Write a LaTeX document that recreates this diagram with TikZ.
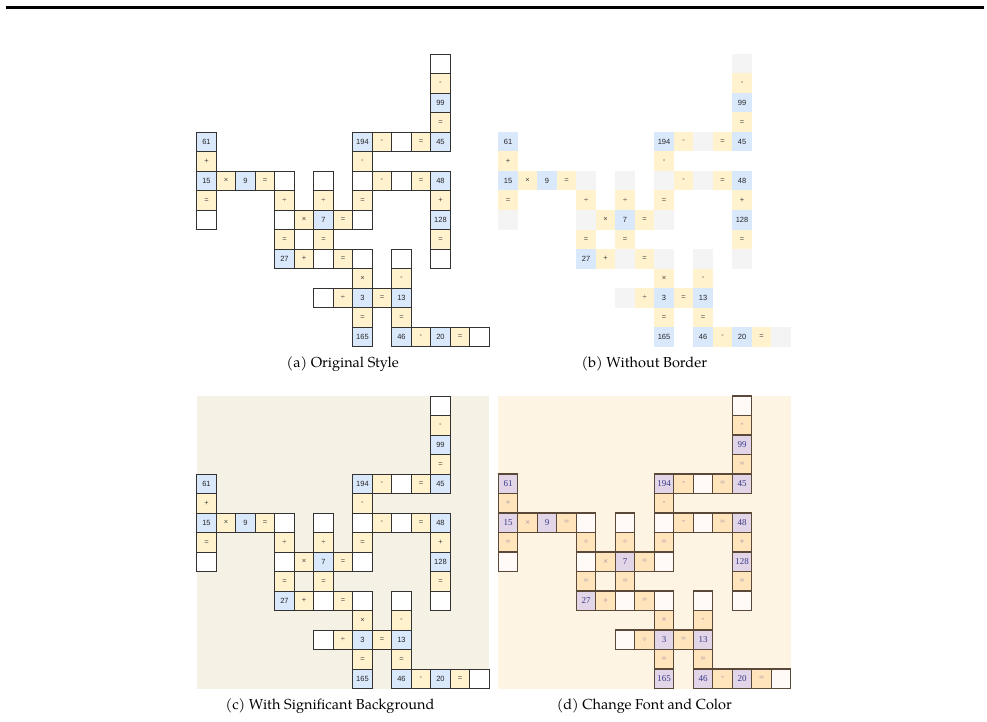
\documentclass[tikz,border=0pt]{standalone}
\usepackage{fontspec}
\newfontfamily\cellsans{Liberation Sans}
\newfontfamily\cellserif{Liberation Serif}
\newfontfamily\capfont{TeX Gyre Pagella}
\definecolor{numA}{HTML}{DAE8FC}
\definecolor{opA}{HTML}{FFF2CC}
\definecolor{lineA}{HTML}{333333}
\definecolor{blankB}{HTML}{F4F4F4}
\definecolor{bgC}{HTML}{F6F1E5}
\definecolor{bgD}{HTML}{FDF4E3}
\definecolor{numD}{HTML}{E1D5E7}
\definecolor{opD}{HTML}{FFE4BC}
\definecolor{blankD}{HTML}{FFFAF8}
\definecolor{lineD}{HTML}{5A4838}
\definecolor{txtD}{HTML}{3A3A8A}
\definecolor{optxtD}{HTML}{9A8CA6}
\tikzset{
  cell/.style={rectangle, anchor=north west, minimum size=19.5pt, inner sep=0pt, outer sep=0pt},
  sAn/.style={fill=numA, font=\cellsans\fontsize{7.5}{7.5}\selectfont, text=black!85},
  sAo/.style={fill=opA, font=\cellsans\fontsize{7.5}{7.5}\selectfont, text=black!75},
  sAb/.style={fill=white},
  sAline/.style={draw=lineA, line width=0.9pt},
  sBn/.style={fill=numA, font=\cellsans\fontsize{7.5}{7.5}\selectfont, text=black!85},
  sBo/.style={fill=opA, font=\cellsans\fontsize{7.5}{7.5}\selectfont, text=black!75},
  sBb/.style={fill=blankB},
  sBline/.style={draw=none},
  sDn/.style={fill=numD, font=\cellserif\fontsize{9}{9}\selectfont, text=txtD},
  sDo/.style={fill=opD, font=\cellserif\fontsize{9}{9}\selectfont, text=optxtD},
  sDb/.style={fill=blankD},
  sDline/.style={draw=lineD, line width=1.3pt},
  capstyle/.style={anchor=base, inner sep=0pt, font=\capfont\fontsize{14.5}{16}\selectfont},
}
\def\cells{12/0/b/{},12/1/o/-,12/2/n/99,12/3/o/=,0/4/n/61,8/4/n/194,9/4/o/-,10/4/b/{},11/4/o/=,12/4/n/45,0/5/o/+,8/5/o/-,0/6/n/15,1/6/o/×,2/6/n/9,3/6/o/=,4/6/b/{},6/6/b/{},8/6/b/{},9/6/o/-,10/6/b/{},11/6/o/=,12/6/n/48,0/7/o/=,4/7/o/÷,6/7/o/÷,8/7/o/=,12/7/o/+,0/8/b/{},4/8/b/{},5/8/o/×,6/8/n/7,7/8/o/=,8/8/b/{},12/8/n/128,4/9/o/=,6/9/o/=,12/9/o/=,4/10/n/27,5/10/o/+,6/10/b/{},7/10/o/=,8/10/b/{},10/10/b/{},12/10/b/{},8/11/o/×,10/11/o/-,6/12/b/{},7/12/o/÷,8/12/n/3,9/12/o/=,10/12/n/13,8/13/o/=,10/13/o/=,8/14/n/165,10/14/n/46,11/14/o/-,12/14/n/20,13/14/o/=,14/14/b/{}}
\newcommand\puzzle[4]{%
  \foreach \c/\r/\t/\s in \cells {
    \node[cell, #4\t] (#1-\r-\c) at ({#2+19.5*\c},{#3+19.5*\r}) {\s};
  }%
  \foreach \c/\r/\t/\s in \cells {
    \path[#4line] (#1-\r-\c.north west) rectangle (#1-\r-\c.south east);
  }%
}
\begin{document}
\begin{tikzpicture}[x=1pt,y=-1pt]
\useasboundingbox (0,0) rectangle (987,722);
\fill[white] (0,0) rectangle (987,722);
% top rule
\fill[black] (6,5.7) rectangle (984,8.7);
% backgrounds
\fill[bgC] (196.7,396) rectangle (489.2,688.5);
\fill[bgD] (498.3,396) rectangle (790.8,688.5);
% puzzles
\puzzle{a}{196.7}{54}{sA}
\puzzle{b}{498.3}{54}{sB}
\puzzle{c}{196.7}{396}{sA}
\puzzle{d}{498.3}{396}{sD}
% captions
\node[capstyle] (capa) at (342.7,367) {(a) Original Style};
\node[capstyle] (capb) at (644.3,367) {(b) Without Border};
\node[capstyle] (capc) at (330,709) {(c) With Significant Background};
\node[capstyle] (capd) at (644.3,709) {(d) Change Font and Color};
\end{tikzpicture}
\end{document}
